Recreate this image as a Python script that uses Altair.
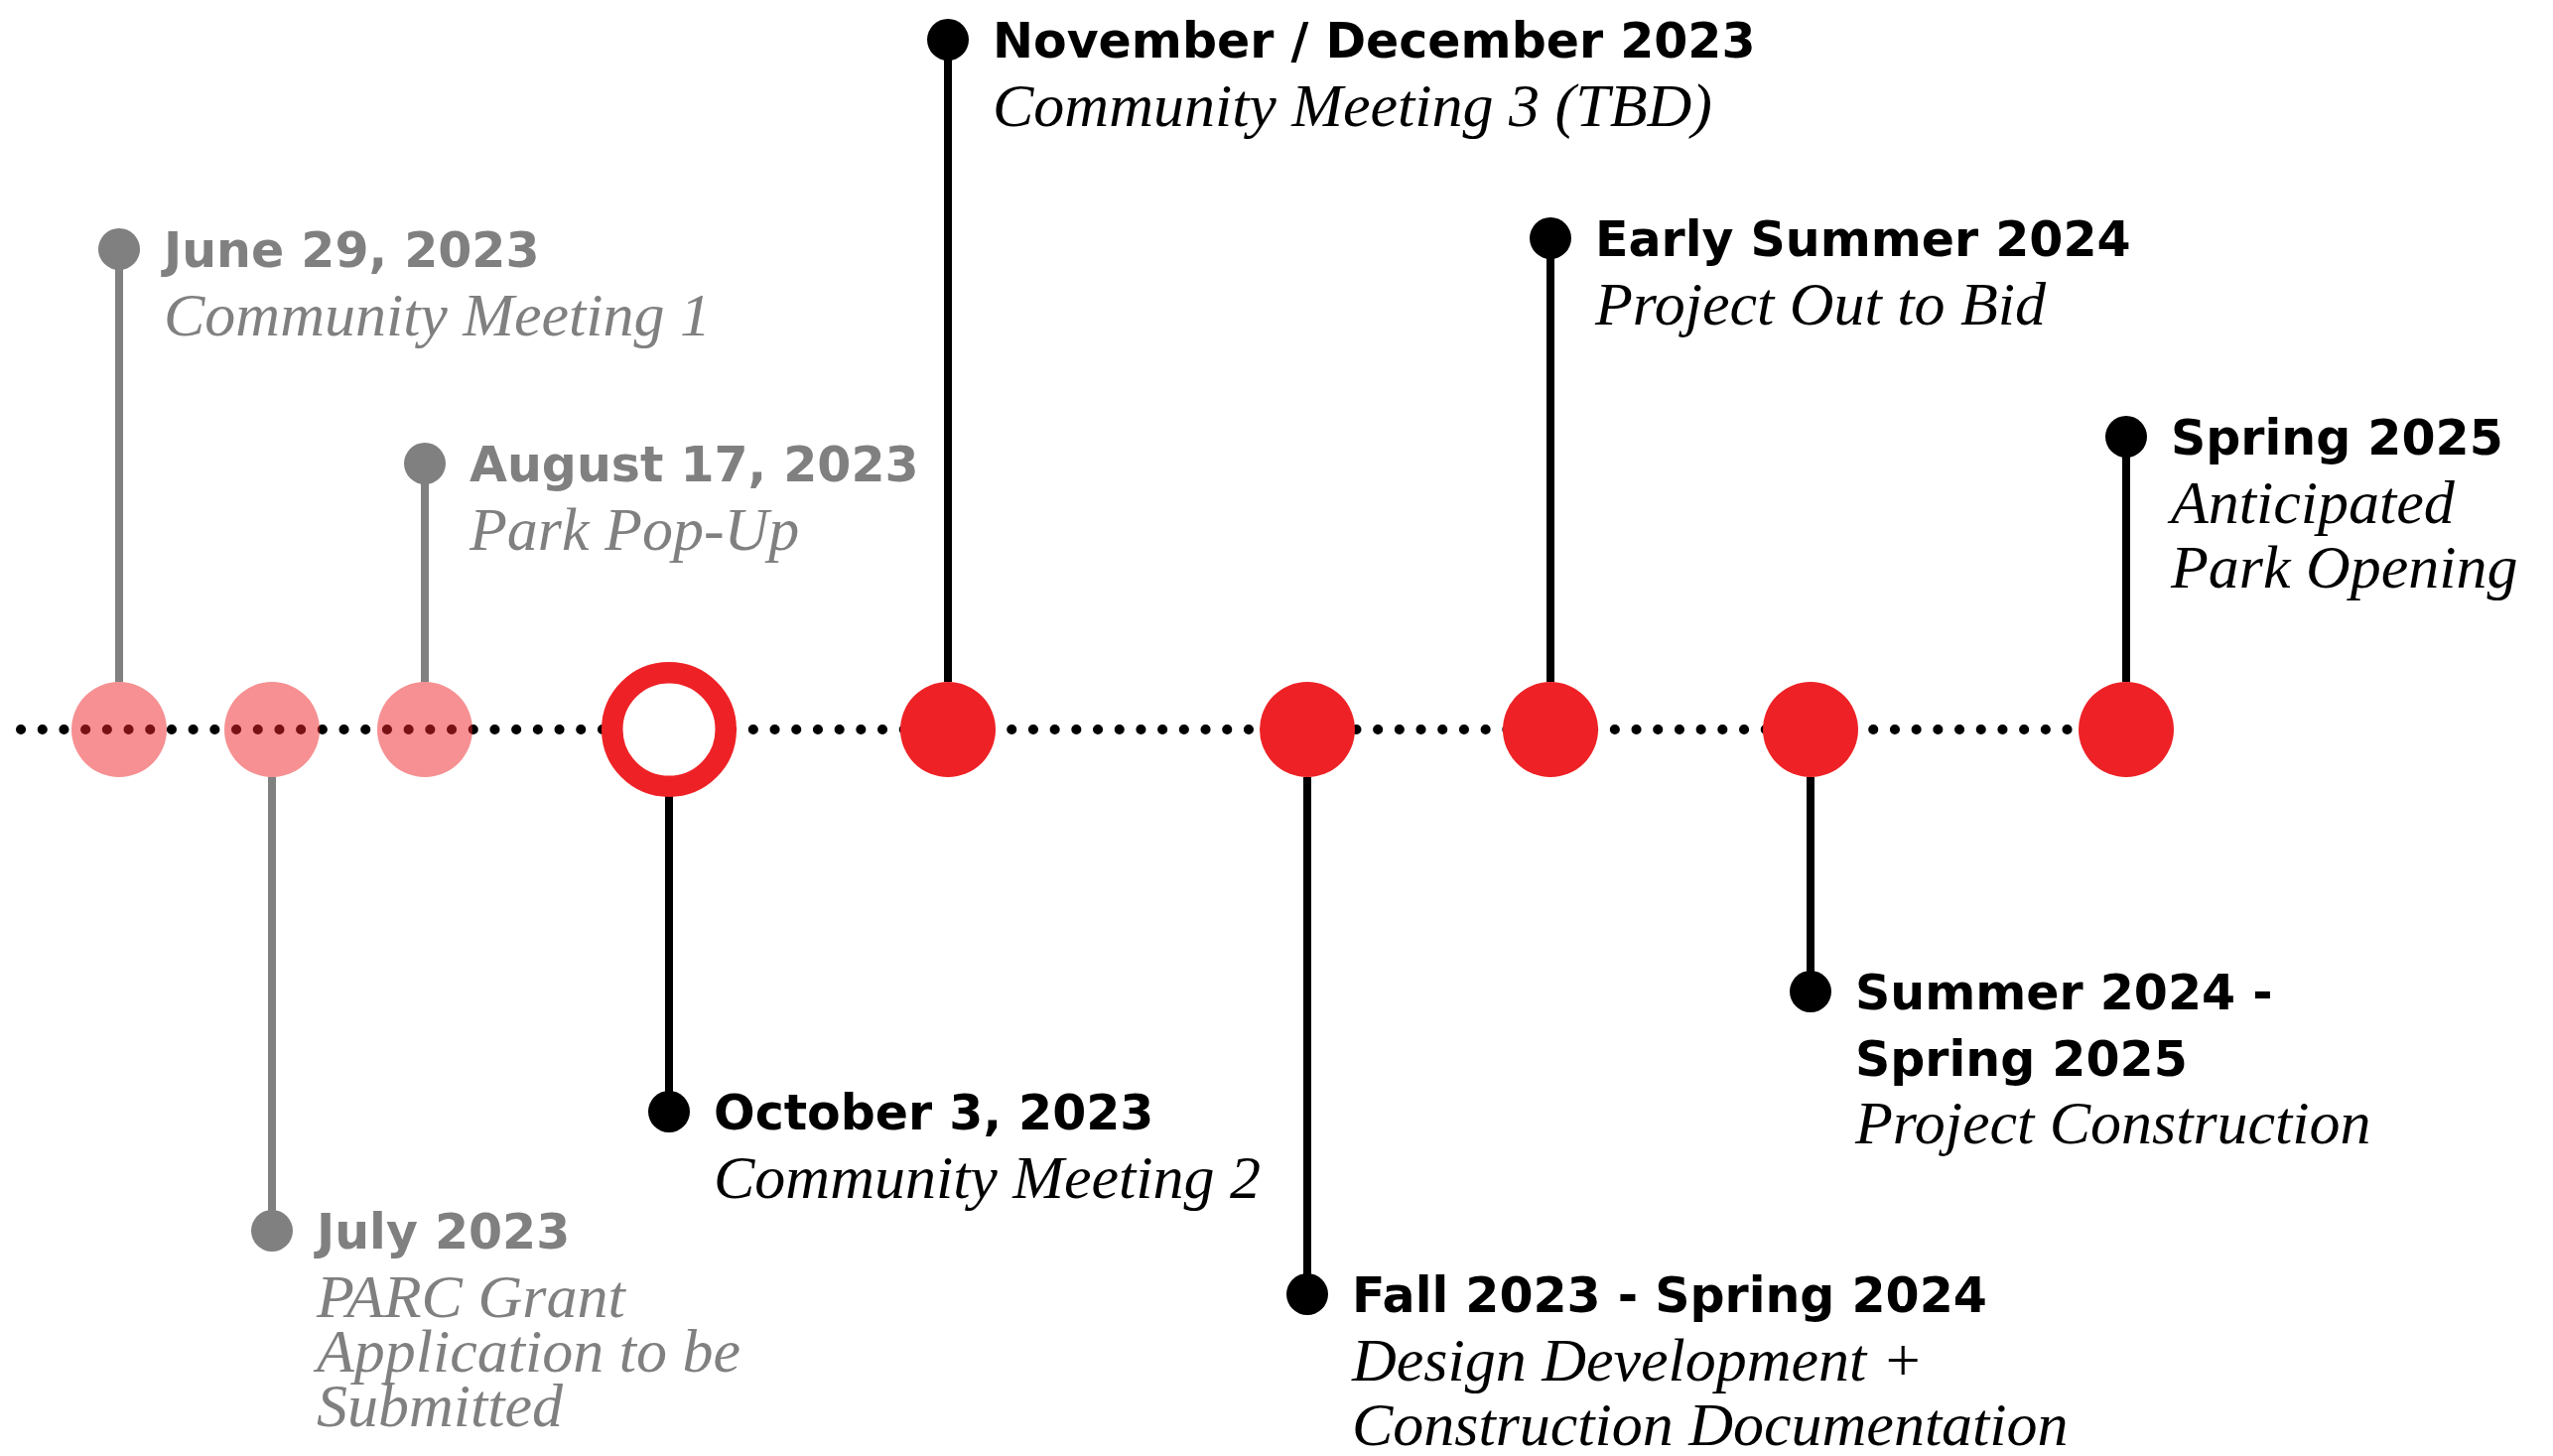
import altair as alt
import pandas as pd

# ---- data ----
titles = ["June 29, 2023", "July 2023", "August 17, 2023", "October 3, 2023",
          "November / December 2023", "Fall 2023 - Spring 2024", "Early Summer 2024",
          "Summer 2024 -\nSpring 2025", "Spring 2025"]
descs = ["Community Meeting 1", "PARC Grant\nApplication to be\nSubmitted", "Park Pop-Up",
         "Community Meeting 2", "Community Meeting 3 (TBD)",
         "Design Development +\nConstruction Documentation", "Project Out to Bid",
         "Project Construction", "Anticipated\nPark Opening"]
status = ["past", "past", "past", "current", "upcoming", "upcoming", "upcoming", "upcoming", "upcoming"]
# position along the timeline and stem height (above + / below -), in 100px units
pos = [1.12, 2.66, 4.20, 6.66, 9.47, 13.09, 15.54, 18.16, 21.34]
level = [4.84, -5.05, 2.68, -3.85, 6.95, -5.69, 4.95, -2.64, 2.95]
track_start = [0.13]
track_end = [21.34]

df = pd.DataFrame({"title": titles, "desc": descs, "status": status, "pos": pos, "level": level})
track = pd.DataFrame({"start": track_start, "end": track_end, "base": [0]})

RED = "#EE2226"
W, H = 2556, 1451
xs = alt.Scale(domain=[0, 25.56], nice=False, zero=False)
ys = alt.Scale(domain=[-7.24, 7.27], nice=False, zero=False)

def X(f="pos"):
    return alt.X(f"{f}:Q", scale=xs, axis=None)

def Y(f="level"):
    return alt.Y(f"{f}:Q", scale=ys, axis=None)

ink = alt.Color("status:N", scale=alt.Scale(domain=["past", "current", "upcoming"],
                                            range=["#808080", "#000000", "#000000"]), legend=None)

base = alt.Chart(df)
on_line = base.transform_calculate(zero="0")

BIG = 96 ** 2
stems = base.mark_rule(strokeWidth=8).encode(x=X(), y=Y(), y2=alt.datum(0), color=ink)
ends = base.mark_circle(size=42 ** 2, opacity=1).encode(x=X(), y=Y(), color=ink)
under = on_line.mark_circle(size=BIG, opacity=1, color="white").encode(x=X(), y=Y("zero"))

dots = alt.Chart(track).mark_rule(strokeWidth=10, strokeCap="round", strokeDash=[0.1, 21.6], color="black").encode(
    x=X("start"), x2="end", y=Y("base"))

past = on_line.transform_filter("datum.status == 'past'").mark_circle(
    size=BIG, color=RED, opacity=0.5).encode(x=X(), y=Y("zero"))
upcoming = on_line.transform_filter("datum.status == 'upcoming'").mark_circle(
    size=BIG, color=RED, opacity=1).encode(x=X(), y=Y("zero"))
current = on_line.transform_filter("datum.status == 'current'").mark_circle(
    size=114.5 ** 2, fill="white", stroke=RED, strokeWidth=21.5, opacity=1, fillOpacity=1).encode(x=X(), y=Y("zero"))

title_txt = base.mark_text(align="left", baseline="alphabetic", dx=45, dy=18, font="DejaVu Sans",
                           fontWeight="bold", fontSize=49, lineBreak="\n", lineHeight=67).encode(
    x=X(), y=Y(), text="title:N", color=ink)

desc_base = base.transform_calculate(
    nlines="length(split(datum.title, '\\n'))").transform_calculate(
    dy_="datum.level - 0.665 * datum.nlines")

desc_txt = desc_base.transform_filter("datum.title != 'July 2023'").mark_text(
    align="left", baseline="alphabetic", dx=45, dy=20, font="Liberation Serif", fontStyle="italic",
    fontSize=62, lineBreak="\n", lineHeight=65).encode(x=X(), y=Y("dy_"), text="desc:N", color=ink)
desc_txt2 = desc_base.transform_filter("datum.title == 'July 2023'").mark_text(
    align="left", baseline="alphabetic", dx=45, dy=20, font="Liberation Serif", fontStyle="italic",
    fontSize=62, lineBreak="\n", lineHeight=55).encode(x=X(), y=Y("dy_"), text="desc:N", color=ink)

chart = alt.layer(stems, ends, under, dots, past, upcoming, current, title_txt, desc_txt, desc_txt2).properties(
    width=W, height=H, padding=0, autosize=alt.AutoSizeParams(type="none"), background="white"
).configure_view(stroke=None)

chart.save("out.html", embed_options={"renderer": "svg", "actions": False})
